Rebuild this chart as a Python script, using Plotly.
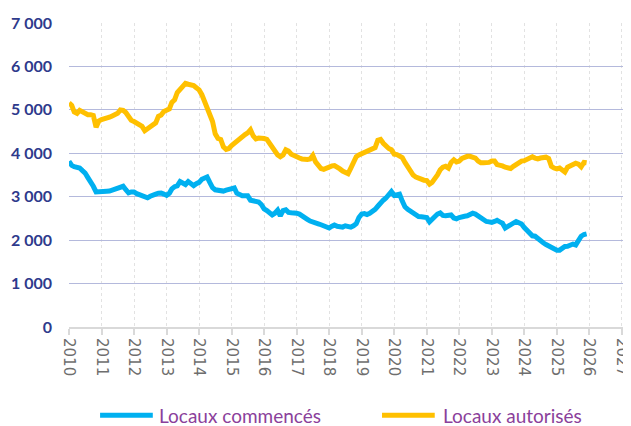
import pandas as pd
import plotly.graph_objects as go

months = pd.date_range("2010-01-01", periods=192, freq="MS")

commences = [
    3815, 3720, 3690, 3680, 3660, 3600, 3545, 3440, 3350, 3240, 3110, 3120,
    3130, 3120, 3125, 3130, 3150, 3180, 3200, 3220, 3240, 3160, 3090, 3110,
    3110, 3070, 3050, 3030, 3000, 2975, 3010, 3045, 3060, 3080, 3085, 3060,
    3030, 3080, 3180, 3230, 3250, 3350, 3320, 3280, 3350, 3290, 3255, 3300,
    3330, 3400, 3440, 3455, 3330, 3210, 3160, 3140, 3120, 3130, 3150, 3160,
    3190, 3200, 3080, 3040, 3020, 3020, 3020, 2920, 2910, 2900, 2880, 2820,
    2720, 2680, 2630, 2580, 2620, 2690, 2560, 2680, 2700, 2640, 2630, 2630,
    2620, 2600, 2570, 2540, 2480, 2440, 2410, 2390, 2375, 2355, 2320, 2300,
    2280, 2320, 2350, 2320, 2300, 2300, 2330, 2310, 2300, 2330, 2380, 2520,
    2600, 2610, 2590, 2620, 2660, 2710, 2780, 2860, 2920, 2970, 3060, 3120,
    3030, 3040, 3060, 2900, 2770, 2710, 2670, 2640, 2580, 2545, 2540, 2540,
    2520, 2420, 2480, 2570, 2600, 2625, 2570, 2560, 2580, 2580, 2510, 2490,
    2520, 2545, 2550, 2560, 2590, 2620, 2600, 2550, 2510, 2470, 2430, 2420,
    2410, 2430, 2455, 2420, 2390, 2280, 2320, 2360, 2410, 2430, 2400, 2370,
    2290, 2220, 2130, 2100, 2090, 2030, 1970, 1940, 1900, 1870, 1830, 1790,
    1770, 1770, 1820, 1855, 1860, 1880, 1910, 1890, 2000, 2090, 2130, 2145,
]

autorises = [
    5160, 5100, 4950, 4920, 4990, 4950, 4900, 4890, 4890, 4870, 4600, 4740,
    4775, 4790, 4800, 4830, 4860, 4900, 4920, 5000, 4990, 4940, 4860, 4760,
    4730, 4700, 4680, 4620, 4520, 4570, 4590, 4640, 4700, 4850, 4880, 4960,
    4990, 5020, 5170, 5230, 5400, 5470, 5530, 5610, 5590, 5585, 5560, 5510,
    5460, 5350, 5220, 5020, 4870, 4730, 4450, 4340, 4320, 4150, 4090, 4110,
    4180, 4230, 4310, 4360, 4400, 4430, 4470, 4540, 4400, 4330, 4350, 4350,
    4340, 4320, 4230, 4150, 4040, 3960, 3920, 3960, 4080, 4050, 3980, 3940,
    3910, 3890, 3870, 3860, 3860, 3870, 3950, 3800, 3700, 3650, 3630, 3660,
    3700, 3710, 3715, 3690, 3640, 3590, 3550, 3530, 3660, 3820, 3920, 3960,
    3990, 4010, 4030, 4050, 4090, 4130, 4300, 4320, 4230, 4150, 4110, 4080,
    3980, 3970, 3950, 3900, 3790, 3680, 3580, 3500, 3450, 3420, 3420, 3380,
    3370, 3290, 3330, 3400, 3500, 3620, 3680, 3700, 3660, 3790, 3850, 3800,
    3820, 3880, 3920, 3930, 3930, 3910, 3890, 3820, 3780, 3780, 3780, 3790,
    3820, 3820, 3740, 3730, 3710, 3680, 3650, 3650, 3700, 3750, 3780, 3820,
    3830, 3855, 3880, 3920, 3890, 3870, 3890, 3900, 3910, 3880, 3700, 3660,
    3640, 3660, 3625, 3570, 3680, 3720, 3740, 3770, 3750, 3690, 3790, 3780,
]

series_names = ["Locaux commencés", "Locaux autorisés"]
series_colors = ["#00b0f0", "#ffc000"]
y_ticks = [0, 1000, 2000, 3000, 4000, 5000, 6000, 7000]

fig = go.Figure()
for name, vals, col in zip(series_names, [commences, autorises], series_colors):
    fig.add_trace(go.Scatter(x=months, y=vals, mode="lines", name=name,
                             line=dict(color=col, width=5), showlegend=False))

# custom legend below the plot (paper coordinates)
leg_y = -0.29
leg_items = [(0.056, 0.151, 0.158), (0.564, 0.659, 0.671)]
for (x0, x1, xt), name, col in zip(leg_items, series_names, series_colors):
    fig.add_shape(type="line", xref="paper", yref="paper", x0=x0, x1=x1, y0=leg_y, y1=leg_y,
                  line=dict(color=col, width=5), layer="above")
    fig.add_annotation(xref="paper", yref="paper", x=xt, y=leg_y, text=name,
                       showarrow=False, xanchor="left", yanchor="middle",
                       font=dict(family="Lato", size=19, color="#8b3f9b"))

fig.update_layout(
    width=623, height=418,
    margin=dict(l=61, r=7, t=15, b=99),
    paper_bgcolor="white", plot_bgcolor="white",
    separators=", ",
    showlegend=False,
    xaxis=dict(
        type="date", automargin=False,
        range=["2010-01-01", "2027-01-25"],
        dtick="M12", tick0="2010-01-01", tickformat="%Y", tickangle=90,
        tickfont=dict(family="DejaVu Sans", size=15, color="#6e6e6e"),
        ticklabeloverflow="allow",
        showgrid=True, gridcolor="#e2e2e2", griddash="dot", gridwidth=1,
        showline=True, linecolor="#d9d9d9", linewidth=2,
        ticks="outside", tickcolor="#d9d9d9", ticklen=6, tickwidth=2,
    ),
    yaxis=dict(
        range=[0, 7000], tickvals=y_ticks, tickformat=",d", automargin=False,
        tickfont=dict(family="Lato", size=16, color="#2e3a8c", weight="bold"),
        showgrid=True, gridcolor="#b4b9dc", gridwidth=1,
        zeroline=False, ticklabelstandoff=16,
    ),
)

fig.write_html("out.html")
